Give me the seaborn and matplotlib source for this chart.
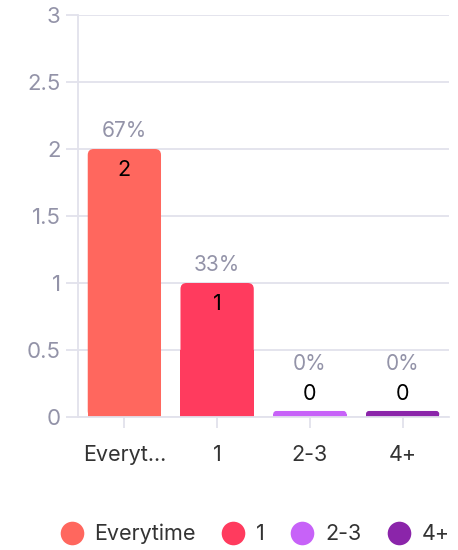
import numpy as np
import pandas as pd
import matplotlib
matplotlib.use("Agg")
import matplotlib.pyplot as plt
import seaborn as sns
from matplotlib.patches import FancyBboxPatch, Rectangle
from matplotlib.lines import Line2D

categories = ["Everytime", "1", "2-3", "4+"]
tick_labels = ["Everyt...", "1", "2-3", "4+"]
counts = [2, 1, 0, 0]
colors = ["#FF675E", "#FF3B5E", "#C762F8", "#8B25AA"]

total = sum(counts)
percents = [round(100 * c / total) for c in counts]

sns.set_theme(style="white")
plt.rcParams["font.family"] = ["Inter", "DejaVu Sans"]

GRID = "#E2E2EC"
TICK_TXT = "#9393A8"
DARK = "#333333"
MIN_STUB = 0.045  # empty categories still show a thin bar

df = pd.DataFrame({
    "category": categories,
    "count": counts,
    "shown": np.maximum(np.array(counts, dtype=float), MIN_STUB),
})

fig = plt.figure(figsize=(4.58, 5.5), dpi=100)
ax = fig.add_axes([78 / 458, 133 / 550, 371 / 458, 402 / 550])

sns.barplot(data=df, x="category", y="shown", hue="category",
            palette=colors, order=categories, hue_order=categories,
            width=0.79, legend=False, ax=ax, saturation=1)

ax.set_xlim(-0.5, 3.5)
ax.set_ylim(0, 3)
ax.set_yticks([0, 0.5, 1, 1.5, 2, 2.5, 3])
ax.set_yticklabels(["0", "0.5", "1", "1.5", "2", "2.5", "3"])
ax.set_xticks(range(len(categories)))
ax.set_xticklabels(tick_labels)
ax.set_xlabel("")
ax.set_ylabel("")

ax.yaxis.grid(True, color=GRID, linewidth=1.3)
ax.set_axisbelow(True)
for s in ["top", "right"]:
    ax.spines[s].set_visible(False)
for s in ["left", "bottom"]:
    ax.spines[s].set_color(GRID)
    ax.spines[s].set_linewidth(1.3)
ax.tick_params(axis="y", length=8.5, width=1.3, color=GRID, pad=4,
               labelsize=16, labelcolor=TICK_TXT, left=True)
ax.tick_params(axis="x", length=8, width=1.3, color=GRID, pad=12,
               labelsize=15.5, labelcolor=DARK, bottom=True)

# rounded tops on the bars
x_per_px = 4 / 371
y_per_px = 3 / 402
radius = 6 * x_per_px
aspect = y_per_px / x_per_px
patches = list(ax.patches)
for p in patches:
    x0, w, h = p.get_x(), p.get_width(), p.get_height()
    fc = p.get_facecolor()
    p.remove()
    r = min(radius, h / aspect / 2 * 0.999)
    ax.add_patch(FancyBboxPatch((x0, 0), w, h,
                                boxstyle=f"round,pad=0,rounding_size={r}",
                                mutation_aspect=aspect, fc=fc, ec="none",
                                zorder=2))
    ax.add_patch(Rectangle((x0, 0), w, h / 2, fc=fc, ec="none", zorder=2))

# value and percentage labels
for i, (c, pct, shown) in enumerate(zip(counts, percents, df["shown"])):
    if c > 0.3:
        ax.annotate(f"{c}", (i, shown), xytext=(0, -15), textcoords="offset points",
                    ha="center", va="center", fontsize=15.5, color="black", zorder=3)
        ax.annotate(f"{pct}%", (i, shown), xytext=(0, 13), textcoords="offset points",
                    ha="center", va="center", fontsize=15, color=TICK_TXT, zorder=3)
    else:
        ax.annotate(f"{c}", (i, shown), xytext=(0, 12.5), textcoords="offset points",
                    ha="center", va="center", fontsize=15.5, color="black", zorder=3)
        ax.annotate(f"{pct}%", (i, shown), xytext=(0, 34), textcoords="offset points",
                    ha="center", va="center", fontsize=15, color=TICK_TXT, zorder=3)

handles = [Line2D([0], [0], marker="o", linestyle="", markersize=17,
                  markerfacecolor=col, markeredgecolor="none") for col in colors]
leg = fig.legend(handles, categories, loc="center", bbox_to_anchor=(0.555, 1 - 534 / 550),
                 ncol=4, frameon=False, fontsize=15.5, handletextpad=0.45,
                 columnspacing=1.15, handlelength=1.2, labelcolor=DARK)

fig.savefig("out.png", dpi=100, facecolor="white")
